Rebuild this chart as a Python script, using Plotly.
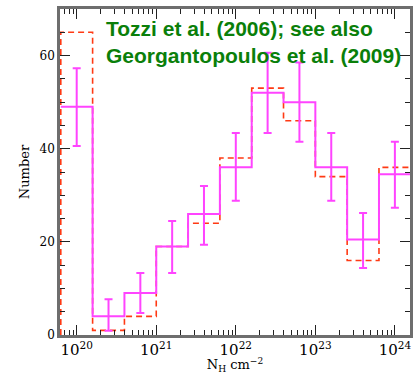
import plotly.graph_objects as go
import numpy as np

# Data: log10(N_H) bin edges (0.4 dex bins)
log_edges = [19.8, 20.2, 20.6, 21.0, 21.4, 21.8, 22.2, 22.6, 23.0, 23.4, 23.8, 24.2]
# Solid (magenta) histogram
solid_counts = [49, 4, 9, 19, 26, 36, 52, 50, 36, 20.5, 34.5]
# Error bar bounds on the solid histogram
err_upper = [57.3, 7.7, 13.3, 24.5, 32, 43.4, 60.6, 58.5, 43.4, 26.2, 41.5]
err_lower = [40.6, 0.9, 4.7, 13.3, 19.4, 28.8, 43.4, 41.5, 28.8, 14.4, 27.3]
# Dashed (red) histogram
dashed_counts = [65, 1, 4, 19, 24, 38, 53, 46, 34, 16, 36]

title_line1 = "Tozzi et al. (2006); see also"
title_line2 = "Georgantopoulos et al. (2009)"

edges = 10 ** np.array(log_edges)
centers = 10 ** ((np.array(log_edges[:-1]) + np.array(log_edges[1:])) / 2)


def step_xy(counts, lead=True):
    xs = list(edges[:-1]) + [edges[-1]]
    ys = list(counts) + [counts[-1]]
    if lead:
        xs = [edges[0]] + xs
        ys = [0] + ys
    return xs, ys


MAGENTA = "#ff44ff"
RED = "#ff3a14"

fig = go.Figure()

dx, dy = step_xy(dashed_counts, lead=True)
fig.add_trace(go.Scatter(x=dx, y=dy, mode="lines",
                         line=dict(color=RED, width=1.6, shape="hv", dash="6px,4px"),
                         hoverinfo="skip", showlegend=False))

sx, sy = step_xy(solid_counts, lead=False)
fig.add_trace(go.Scatter(x=sx, y=sy, mode="lines", line=dict(color=MAGENTA, width=2, shape="hv"),
                         hoverinfo="skip", showlegend=False))

up = np.array(err_upper) - np.array(solid_counts)
lo = np.array(solid_counts) - np.array(err_lower)
fig.add_trace(go.Scatter(x=centers, y=solid_counts, mode="markers",
                         marker=dict(size=0.1, color="rgba(0,0,0,0)"),
                         error_y=dict(type="data", symmetric=False, array=up, arrayminus=lo,
                                      color=MAGENTA, thickness=2, width=4),
                         showlegend=False))

serif = "DejaVu Serif"
axis_common = dict(showline=True, linecolor="#6e6e6e", linewidth=2.5, mirror="allticks",
                   ticks="inside", ticklen=10, tickwidth=1.2, tickcolor="#222",
                   showgrid=False, zeroline=False,
                   tickfont=dict(family=serif, size=12, color="black"))

fig.update_xaxes(type="log", range=[19.79, 24.19], dtick=1, exponentformat="power",
                 minor=dict(ticks="inside", ticklen=5, dtick="D1", tickcolor="#222", tickwidth=1.2),
                 title=dict(text="N<sub>H</sub> cm<sup>−2</sup>", font=dict(family=serif, size=13, color="black"),
                            standoff=3),
                 **axis_common)
fig.update_yaxes(range=[0, 70], dtick=20,
                 minor=dict(ticks="inside", ticklen=5, dtick=5, tickcolor="#222", tickwidth=1.2),
                 title=dict(text="Number", font=dict(family=serif, size=13, color="black"), standoff=8),
                 **axis_common)

for txt, yy in [(title_line1, 0.939), (title_line2, 0.857)]:
    fig.add_annotation(text="<b>" + txt + "</b>", xref="paper", yref="paper", x=0.127, y=yy,
                       xanchor="left", yanchor="middle", showarrow=False,
                       font=dict(family="Liberation Sans", size=21, color="#0a7f0a"))

fig.update_layout(width=415, height=374, margin=dict(l=60, r=2, t=9, b=39),
                  paper_bgcolor="white", plot_bgcolor="white")

fig.write_html("out.html")
